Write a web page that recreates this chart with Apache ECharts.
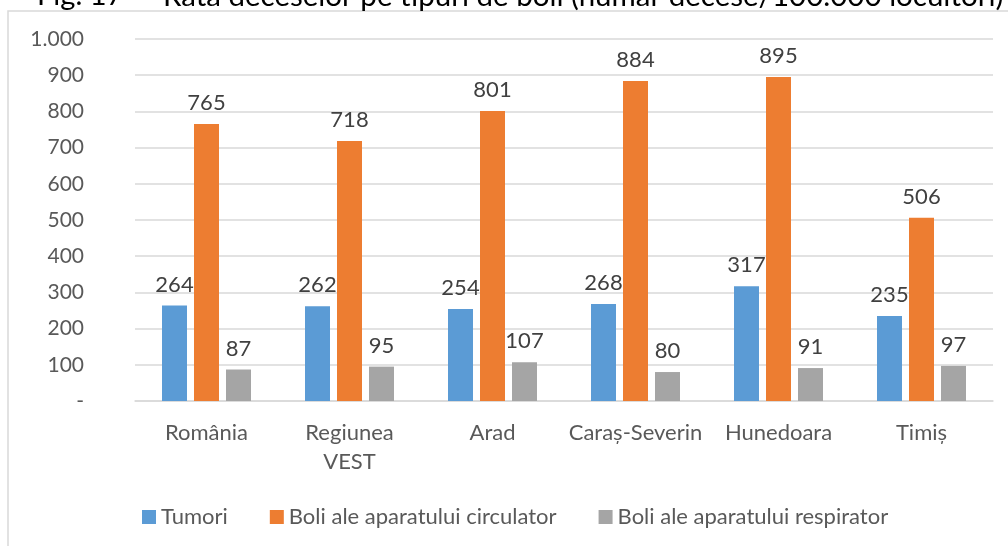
<!DOCTYPE html>
<html>
<head>
<meta charset="utf-8">
<script src="https://cdn.jsdelivr.net/npm/echarts@6/dist/echarts.min.js"></script>
<style>
  html, body { margin: 0; padding: 0; background: #fff; }
  #chart { width: 1008px; height: 546px; }
</style>
</head>
<body>
<div id="chart"></div>
<script>
var categories = ['România', 'Regiunea\nVEST', 'Arad', 'Caraș-Severin', 'Hunedoara', 'Timiș'];
var tumori = [264, 262, 254, 268, 317, 235];
var circulator = [765, 718, 801, 884, 895, 506];
var respirator = [87, 95, 107, 80, 91, 97];
var seriesNames = ['Tumori', 'Boli ale aparatului circulator', 'Boli ale aparatului respirator'];
var colors = ['#5B9BD5', '#ED7D31', '#A5A5A5'];

var font = 'Lato, "Liberation Sans", sans-serif';

var chart = echarts.init(document.getElementById('chart'));

function barSeries(name, values, color) {
    return {
        name: name,
        type: 'bar',
        data: values,
        barWidth: 25,
        barGap: '28%',
        itemStyle: { color: color },
        label: {
            show: true,
            position: 'top',
            distance: 10,
            color: '#404040',
            fontSize: 22,
            fontFamily: font
        }
    };
}

var option = {
    animation: false,
    backgroundColor: '#fff',
    color: colors,
    textStyle: { fontFamily: font },
    graphic: [
        {
            type: 'rect',
            shape: { x: 8, y: 11, width: 1100, height: 600 },
            style: { fill: 'none', stroke: '#d9d9d9', lineWidth: 1.5 },
            silent: true
        },
        {
            type: 'text',
            left: 37,
            top: -19,
            style: { text: 'Fig. 17 –', font: '29px ' + font, fill: '#000' }
        },
        {
            type: 'text',
            left: 163,
            top: -19,
            style: { text: 'Rata deceselor pe tipuri de boli (număr decese/100.000 locuitori)', font: '29.5px ' + font, fill: '#000' }
        }
    ],
    legend: {
        left: 137,
        top: 501,
        itemWidth: 14,
        itemHeight: 14,
        itemGap: 42,
        icon: 'rect',
        textStyle: { color: '#595959', fontSize: 22, fontFamily: font },
        data: seriesNames
    },
    grid: {
        left: 135,
        right: 15,
        top: 39,
        bottom: 145,
        containLabel: false
    },
    xAxis: {
        type: 'category',
        data: categories,
        axisLine: { lineStyle: { color: '#d9d9d9', width: 1.5 } },
        axisTick: { show: false },
        axisLabel: {
            color: '#595959',
            fontSize: 22,
            lineHeight: 29,
            margin: 17,
            interval: 0
        }
    },
    yAxis: {
        type: 'value',
        min: 0,
        max: 1000,
        interval: 100,
        axisLine: { show: false },
        axisTick: { show: false },
        splitLine: { lineStyle: { color: '#d9d9d9', width: 1.5 } },
        axisLabel: {
            color: '#595959',
            fontSize: 21,
            margin: 51,
            formatter: function (v) {
                if (v === 0) return '-';
                return v >= 1000 ? (v / 1000) + '.' + String(v % 1000).padStart(3, '0') : String(v);
            }
        }
    },
    series: [
        barSeries(seriesNames[0], tumori, colors[0]),
        barSeries(seriesNames[1], circulator, colors[1]),
        barSeries(seriesNames[2], respirator, colors[2])
    ]
};

chart.setOption(option);
</script>
</body>
</html>
